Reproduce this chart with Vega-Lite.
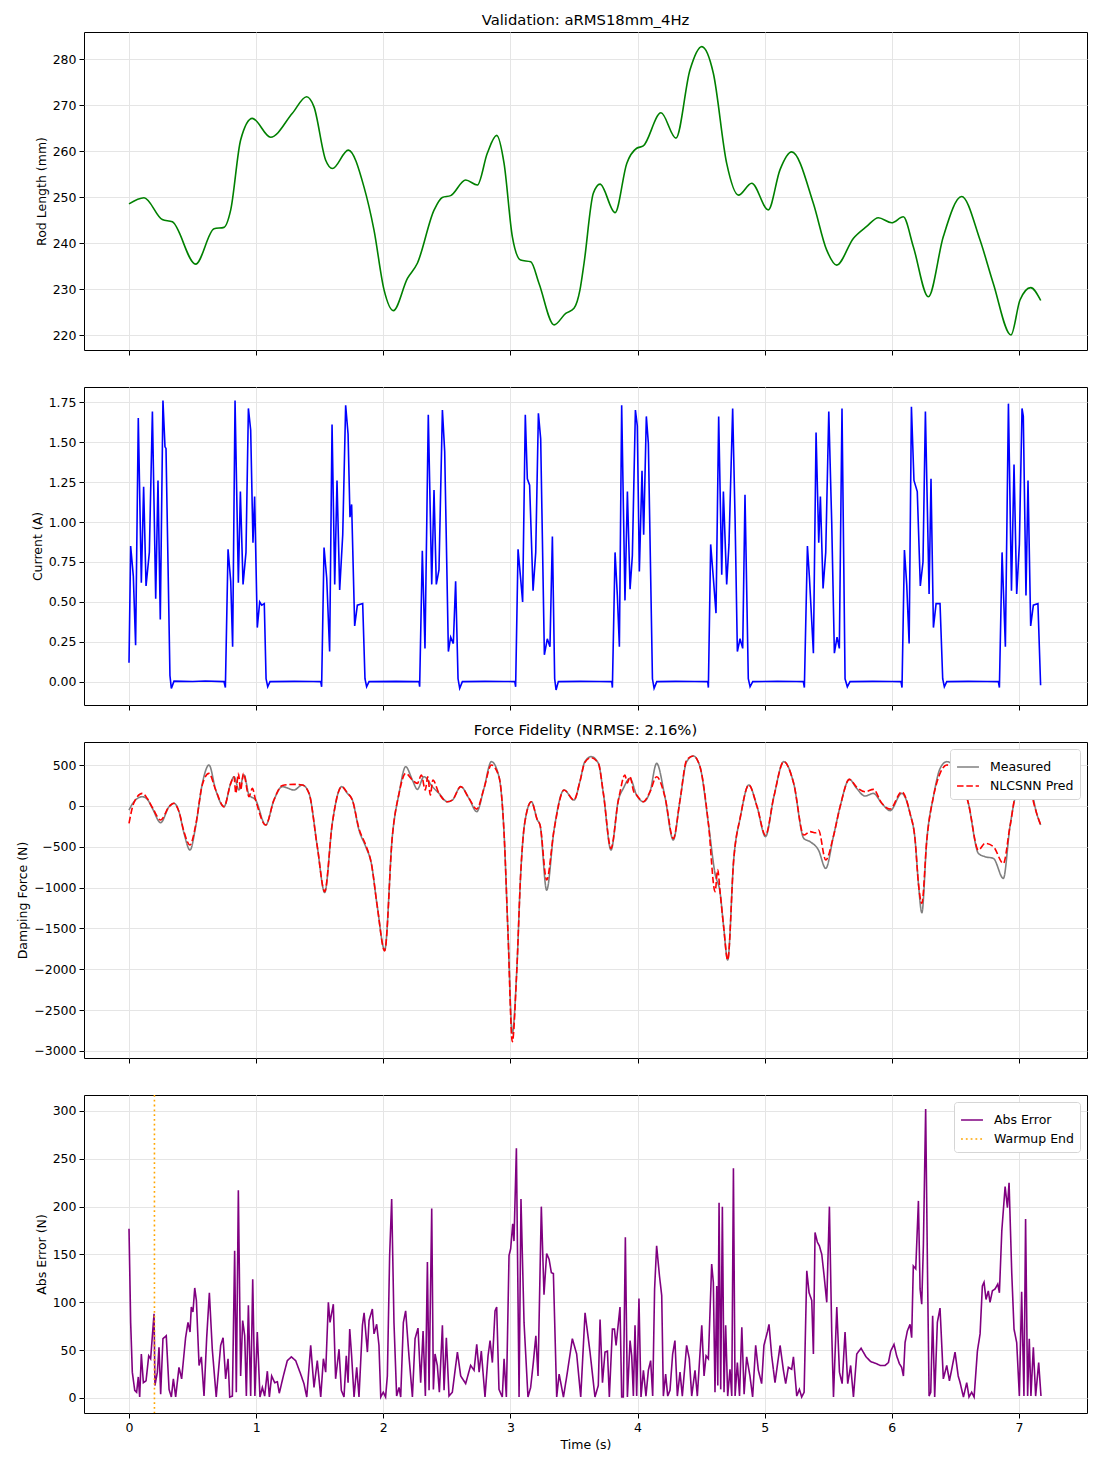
{
  "$schema": "https://vega.github.io/schema/vega-lite/v6.json",
  "padding": {"left": 16, "top": 12, "right": 13, "bottom": 10},
  "bounds": "flush",
  "spacing": 37,
  "config": {
    "font": "DejaVu Sans",
    "view": {"stroke": "#000", "strokeWidth": 1},
    "axis": {
      "labelFont": "DejaVu Sans", "labelFontSize": 12.5, "labelColor": "#000",
      "titleFont": "DejaVu Sans", "titleFontSize": 12.5, "titleFontWeight": "normal", "titleColor": "#000",
      "tickColor": "#000", "tickSize": 5, "labelPadding": 3, "domain": false,
      "gridColor": "#e5e5e5", "gridWidth": 1
    },
    "title": {"font": "DejaVu Sans", "fontSize": 14.8, "fontWeight": "normal", "color": "#000", "offset": 4},
    "legend": {
      "orient": "top-right", "offset": 7, "fillColor": "#fff", "strokeColor": "#d5d5d5",
      "padding": 6, "cornerRadius": 3, "labelFont": "DejaVu Sans", "labelFontSize": 12.5, "labelColor": "#000",
      "symbolType": "stroke", "symbolSize": 480, "symbolStrokeWidth": 1.6, "rowPadding": 0, "labelOffset": 10
    }
  },
  "datasets": {
    "rod": [
      {"t":0,"v":248.5},{"t":0.118,"v":249.85},{"t":0.262,"v":245.1},{"t":0.341,"v":244.6},{"t":0.524,"v":235.4},
      {"t":0.669,"v":243.1},{"t":0.747,"v":243.4},{"t":0.8,"v":247.2},{"t":0.878,"v":262.4},{"t":0.97,"v":267.1},
      {"t":1.114,"v":263.0},{"t":1.285,"v":268.2},{"t":1.397,"v":271.8},{"t":1.455,"v":269.6},{"t":1.547,"v":258.0},
      {"t":1.6,"v":256.2},{"t":1.725,"v":260.2},{"t":1.848,"v":252.2},{"t":1.927,"v":242.8},{"t":2.006,"v":229.8},
      {"t":2.079,"v":225.3},{"t":2.19,"v":232.3},{"t":2.268,"v":235.6},{"t":2.4,"v":247.2},{"t":2.464,"v":249.9},
      {"t":2.53,"v":250.3},{"t":2.648,"v":253.7},{"t":2.74,"v":252.6},{"t":2.818,"v":259.5},{"t":2.892,"v":263.4},
      {"t":2.95,"v":257.3},{"t":3.015,"v":241.4},{"t":3.08,"v":236.3},{"t":3.16,"v":235.9},{"t":3.225,"v":231.2},
      {"t":3.343,"v":222.2},{"t":3.435,"v":224.7},{"t":3.5,"v":225.8},{"t":3.547,"v":229.8},{"t":3.579,"v":235.6},
      {"t":3.652,"v":250.8},{"t":3.705,"v":252.8},{"t":3.823,"v":246.6},{"t":3.915,"v":257.3},{"t":3.993,"v":260.6},
      {"t":4.045,"v":261.1},{"t":4.184,"v":268.3},{"t":4.302,"v":262.8},{"t":4.412,"v":277.6},{"t":4.505,"v":282.7},
      {"t":4.596,"v":276.9},{"t":4.701,"v":257.3},{"t":4.793,"v":250.4},{"t":4.898,"v":253.0},{"t":5.028,"v":247.2},
      {"t":5.12,"v":255.9},{"t":5.212,"v":259.8},{"t":5.383,"v":248.6},{"t":5.487,"v":238.5},{"t":5.566,"v":235.2},
      {"t":5.697,"v":241.0},{"t":5.802,"v":243.6},{"t":5.894,"v":245.5},{"t":5.999,"v":244.4},{"t":6.09,"v":245.7},
      {"t":6.169,"v":239.2},{"t":6.287,"v":228.3},{"t":6.405,"v":241.4},{"t":6.549,"v":250.1},{"t":6.693,"v":240.7},
      {"t":6.798,"v":231.2},{"t":6.937,"v":220.0},{"t":7.008,"v":227.6},{"t":7.092,"v":230.3},{"t":7.171,"v":227.5}
    ],
    "cur": [
      {"t":0,"v":0.12},{"t":0.013,"v":0.85},{"t":0.034,"v":0.66},{"t":0.052,"v":0.23},{"t":0.073,"v":1.65},{"t":0.097,"v":0.62},{"t":0.115,"v":1.22},{"t":0.134,"v":0.6},{"t":0.16,"v":0.81},{"t":0.184,"v":1.69},{"t":0.21,"v":0.52},{"t":0.228,"v":1.26},{"t":0.246,"v":0.39},{"t":0.267,"v":1.76},{"t":0.283,"v":1.47},{"t":0.291,"v":1.46},{"t":0.322,"v":0.04},{"t":0.333,"v":-0.04},{"t":0.354,"v":0.005},{"t":0.5,"v":0.003},{"t":0.6,"v":0.006},{"t":0.747,"v":0.002},{"t":0.758,"v":-0.035},
      {"t":0.779,"v":0.83},{"t":0.8,"v":0.63},{"t":0.815,"v":0.22},{"t":0.834,"v":1.76},{"t":0.86,"v":0.62},{"t":0.876,"v":1.19},{"t":0.897,"v":0.61},{"t":0.92,"v":0.81},{"t":0.939,"v":1.71},{"t":0.957,"v":1.575},{"t":0.975,"v":0.87},{"t":0.988,"v":1.16},{"t":1.009,"v":0.34},{"t":1.028,"v":0.5},{"t":1.044,"v":0.48},{"t":1.064,"v":0.49},{"t":1.078,"v":0.02},{"t":1.091,"v":-0.03},{"t":1.109,"v":0.002},{"t":1.3,"v":0.004},{"t":1.45,"v":0.003},{"t":1.508,"v":0.002},{"t":1.515,"v":-0.03},
      {"t":1.534,"v":0.84},{"t":1.555,"v":0.65},{"t":1.578,"v":0.19},{"t":1.597,"v":1.61},{"t":1.618,"v":0.61},{"t":1.636,"v":1.26},{"t":1.657,"v":0.575},{"t":1.681,"v":0.92},{"t":1.704,"v":1.73},{"t":1.723,"v":1.55},{"t":1.738,"v":1.03},{"t":1.751,"v":1.11},{"t":1.775,"v":0.35},{"t":1.796,"v":0.48},{"t":1.838,"v":0.49},{"t":1.856,"v":0.02},{"t":1.869,"v":-0.03},{"t":1.888,"v":0.002},{"t":2.1,"v":0.004},{"t":2.25,"v":0.002},{"t":2.281,"v":0.002},{"t":2.286,"v":-0.03},
      {"t":2.307,"v":0.82},{"t":2.328,"v":0.21},{"t":2.354,"v":1.67},{"t":2.381,"v":0.61},{"t":2.399,"v":1.2},{"t":2.417,"v":0.61},{"t":2.438,"v":0.7},{"t":2.465,"v":1.7},{"t":2.483,"v":1.44},{"t":2.512,"v":0.19},{"t":2.53,"v":0.28},{"t":2.551,"v":0.24},{"t":2.569,"v":0.63},{"t":2.588,"v":0.02},{"t":2.601,"v":-0.04},{"t":2.622,"v":0.002},{"t":2.8,"v":0.004},{"t":2.95,"v":0.003},{"t":3.034,"v":0.002},{"t":3.041,"v":-0.03},
      {"t":3.06,"v":0.83},{"t":3.081,"v":0.64},{"t":3.096,"v":0.5},{"t":3.117,"v":1.67},{"t":3.133,"v":1.27},{"t":3.151,"v":1.23},{"t":3.178,"v":0.57},{"t":3.199,"v":0.81},{"t":3.22,"v":1.68},{"t":3.238,"v":1.52},{"t":3.267,"v":0.17},{"t":3.29,"v":0.27},{"t":3.311,"v":0.22},{"t":3.33,"v":0.91},{"t":3.348,"v":0.02},{"t":3.359,"v":-0.05},{"t":3.377,"v":0.002},{"t":3.55,"v":0.004},{"t":3.7,"v":0.003},{"t":3.797,"v":0.002},{"t":3.802,"v":-0.035},
      {"t":3.823,"v":0.81},{"t":3.841,"v":0.54},{"t":3.857,"v":0.22},{"t":3.875,"v":1.73},{"t":3.901,"v":0.51},{"t":3.92,"v":1.19},{"t":3.941,"v":0.58},{"t":3.959,"v":0.79},{"t":3.983,"v":1.7},{"t":3.998,"v":1.6},{"t":4.014,"v":0.69},{"t":4.035,"v":1.32},{"t":4.048,"v":0.92},{"t":4.069,"v":1.66},{"t":4.085,"v":1.49},{"t":4.117,"v":0.02},{"t":4.13,"v":-0.04},{"t":4.151,"v":0.002},{"t":4.3,"v":0.004},{"t":4.45,"v":0.003},{"t":4.552,"v":0.002},{"t":4.557,"v":-0.035},
      {"t":4.575,"v":0.86},{"t":4.596,"v":0.65},{"t":4.617,"v":0.43},{"t":4.638,"v":1.66},{"t":4.662,"v":0.67},{"t":4.675,"v":1.19},{"t":4.701,"v":0.61},{"t":4.719,"v":0.86},{"t":4.748,"v":1.71},{"t":4.767,"v":1.02},{"t":4.785,"v":0.19},{"t":4.806,"v":0.27},{"t":4.827,"v":0.21},{"t":4.845,"v":1.17},{"t":4.871,"v":0.02},{"t":4.885,"v":-0.03},{"t":4.906,"v":0.002},{"t":5.1,"v":0.004},{"t":5.25,"v":0.003},{"t":5.304,"v":0.002},{"t":5.312,"v":-0.035},
      {"t":5.336,"v":0.85},{"t":5.352,"v":0.65},{"t":5.383,"v":0.18},{"t":5.404,"v":1.56},{"t":5.425,"v":0.87},{"t":5.438,"v":1.16},{"t":5.459,"v":0.585},{"t":5.48,"v":0.81},{"t":5.504,"v":1.69},{"t":5.527,"v":1.0},{"t":5.548,"v":0.18},{"t":5.569,"v":0.28},{"t":5.587,"v":0.21},{"t":5.608,"v":1.71},{"t":5.632,"v":0.02},{"t":5.65,"v":-0.03},{"t":5.671,"v":0.002},{"t":5.85,"v":0.004},{"t":6.0,"v":0.003},{"t":6.072,"v":0.002},{"t":6.08,"v":-0.035},
      {"t":6.099,"v":0.825},{"t":6.117,"v":0.61},{"t":6.136,"v":0.24},{"t":6.154,"v":1.72},{"t":6.174,"v":1.26},{"t":6.2,"v":1.19},{"t":6.224,"v":0.6},{"t":6.245,"v":0.75},{"t":6.264,"v":1.69},{"t":6.293,"v":0.55},{"t":6.308,"v":1.27},{"t":6.327,"v":0.34},{"t":6.348,"v":0.49},{"t":6.379,"v":0.49},{"t":6.4,"v":0.02},{"t":6.413,"v":-0.03},{"t":6.432,"v":0.002},{"t":6.6,"v":0.004},{"t":6.75,"v":0.003},{"t":6.838,"v":0.002},{"t":6.846,"v":-0.035},
      {"t":6.867,"v":0.81},{"t":6.893,"v":0.22},{"t":6.917,"v":1.74},{"t":6.941,"v":0.57},{"t":6.961,"v":1.36},{"t":6.982,"v":0.55},{"t":7.003,"v":0.86},{"t":7.024,"v":1.71},{"t":7.034,"v":1.66},{"t":7.055,"v":0.54},{"t":7.071,"v":1.26},{"t":7.092,"v":0.35},{"t":7.113,"v":0.48},{"t":7.149,"v":0.49},{"t":7.17,"v":-0.02}
    ],
    "measured": [
      {"t":0,"v":-51},{"t":0.039,"v":51},{"t":0.105,"v":112},{"t":0.144,"v":80},{"t":0.184,"v":-31},{"t":0.249,"v":-206},{"t":0.315,"v":-10},{"t":0.354,"v":31},{"t":0.393,"v":-71},{"t":0.433,"v":-337},{"t":0.48,"v":-541},{"t":0.524,"v":-255},{"t":0.577,"v":275},{"t":0.629,"v":500},{"t":0.682,"v":194},{"t":0.747,"v":-10},{"t":0.8,"v":275},{"t":0.826,"v":357},{"t":0.865,"v":194},{"t":0.905,"v":377},{"t":0.944,"v":133},{"t":0.996,"v":71},{"t":1.075,"v":-235},{"t":1.14,"v":71},{"t":1.206,"v":235},{"t":1.298,"v":194},{"t":1.363,"v":255},{"t":1.416,"v":153},{"t":1.481,"v":-500},{"t":1.539,"v":-1060},{"t":1.599,"v":-214},{"t":1.673,"v":235},{"t":1.717,"v":153},{"t":1.757,"v":71},{"t":1.809,"v":-296},{"t":1.862,"v":-500},{"t":1.906,"v":-704},{"t":1.953,"v":-1234},{"t":2.011,"v":-1765},{"t":2.071,"v":-377},{"t":2.124,"v":153},{"t":2.176,"v":479},{"t":2.229,"v":316},{"t":2.268,"v":202},{"t":2.32,"v":357},{"t":2.386,"v":235},{"t":2.438,"v":153},{"t":2.504,"v":51},{"t":2.543,"v":71},{"t":2.609,"v":235},{"t":2.674,"v":92},{"t":2.735,"v":-71},{"t":2.792,"v":214},{"t":2.85,"v":541},{"t":2.91,"v":357},{"t":2.95,"v":-337},{"t":2.981,"v":-1561},{"t":3.015,"v":-2785},{"t":3.049,"v":-2050},{"t":3.081,"v":-826},{"t":3.112,"v":-214},{"t":3.165,"v":51},{"t":3.212,"v":-173},{"t":3.233,"v":-235},{"t":3.285,"v":-1032},{"t":3.343,"v":-296},{"t":3.422,"v":194},{"t":3.5,"v":71},{"t":3.547,"v":300},{"t":3.585,"v":540},{"t":3.635,"v":602},{"t":3.692,"v":520},{"t":3.731,"v":153},{"t":3.791,"v":-541},{"t":3.849,"v":71},{"t":3.888,"v":214},{"t":3.94,"v":337},{"t":3.992,"v":133},{"t":4.045,"v":51},{"t":4.098,"v":173},{"t":4.15,"v":520},{"t":4.215,"v":112},{"t":4.281,"v":-418},{"t":4.334,"v":71},{"t":4.386,"v":541},{"t":4.439,"v":610},{"t":4.491,"v":479},{"t":4.557,"v":-214},{"t":4.609,"v":-826},{"t":4.65,"v":-1071},{"t":4.677,"v":-1479},{"t":4.709,"v":-1887},{"t":4.756,"v":-663},{"t":4.809,"v":-133},{"t":4.875,"v":255},{"t":4.94,"v":-10},{"t":5.006,"v":-377},{"t":5.072,"v":112},{"t":5.15,"v":541},{"t":5.228,"v":275},{"t":5.307,"v":-398},{"t":5.357,"v":-439},{"t":5.423,"v":-541},{"t":5.48,"v":-765},{"t":5.54,"v":-377},{"t":5.593,"v":-10},{"t":5.666,"v":324},{"t":5.723,"v":214},{"t":5.789,"v":120},{"t":5.855,"v":153},{"t":5.921,"v":31},{"t":5.986,"v":-59},{"t":6.078,"v":153},{"t":6.143,"v":-92},{"t":6.183,"v":-418},{"t":6.209,"v":-949},{"t":6.236,"v":-1308},{"t":6.275,"v":-418},{"t":6.327,"v":112},{"t":6.38,"v":459},{"t":6.432,"v":541},{"t":6.511,"v":439},{"t":6.602,"v":31},{"t":6.681,"v":-582},{"t":6.733,"v":-622},{"t":6.799,"v":-643},{"t":6.877,"v":-888},{"t":6.929,"v":-255},{"t":6.982,"v":153},{"t":7.047,"v":235},{"t":7.1,"v":153},{"t":7.139,"v":-92},{"t":7.171,"v":-235}
    ],
    "pred": [
      {"t":0,"v":-214},{"t":0.039,"v":40},{"t":0.105,"v":153},{"t":0.144,"v":90},{"t":0.184,"v":-20},{"t":0.249,"v":-173},{"t":0.315,"v":-10},{"t":0.354,"v":31},{"t":0.393,"v":-71},{"t":0.433,"v":-320},{"t":0.48,"v":-479},{"t":0.524,"v":-240},{"t":0.577,"v":260},{"t":0.629,"v":398},{"t":0.682,"v":194},{"t":0.747,"v":-10},{"t":0.8,"v":275},{"t":0.826,"v":357},{"t":0.84,"v":153},{"t":0.86,"v":398},{"t":0.878,"v":194},{"t":0.9,"v":398},{"t":0.944,"v":112},{"t":0.97,"v":214},{"t":0.996,"v":71},{"t":1.075,"v":-235},{"t":1.14,"v":71},{"t":1.206,"v":250},{"t":1.298,"v":263},{"t":1.363,"v":255},{"t":1.416,"v":153},{"t":1.481,"v":-500},{"t":1.539,"v":-1050},{"t":1.599,"v":-214},{"t":1.673,"v":235},{"t":1.717,"v":160},{"t":1.757,"v":71},{"t":1.809,"v":-280},{"t":1.862,"v":-480},{"t":1.906,"v":-704},{"t":1.953,"v":-1234},{"t":2.011,"v":-1775},{"t":2.071,"v":-377},{"t":2.124,"v":153},{"t":2.176,"v":398},{"t":2.229,"v":316},{"t":2.268,"v":275},{"t":2.3,"v":377},{"t":2.33,"v":194},{"t":2.35,"v":357},{"t":2.37,"v":133},{"t":2.39,"v":316},{"t":2.438,"v":153},{"t":2.504,"v":51},{"t":2.543,"v":71},{"t":2.609,"v":235},{"t":2.674,"v":92},{"t":2.735,"v":-40},{"t":2.792,"v":214},{"t":2.85,"v":500},{"t":2.91,"v":357},{"t":2.95,"v":-337},{"t":2.981,"v":-1561},{"t":3.015,"v":-2887},{"t":3.049,"v":-2050},{"t":3.081,"v":-826},{"t":3.112,"v":-214},{"t":3.165,"v":51},{"t":3.212,"v":-173},{"t":3.233,"v":-235},{"t":3.285,"v":-908},{"t":3.343,"v":-296},{"t":3.422,"v":194},{"t":3.5,"v":71},{"t":3.547,"v":300},{"t":3.585,"v":530},{"t":3.635,"v":590},{"t":3.692,"v":520},{"t":3.731,"v":153},{"t":3.791,"v":-520},{"t":3.849,"v":71},{"t":3.86,"v":153},{"t":3.9,"v":377},{"t":3.92,"v":280},{"t":3.94,"v":357},{"t":3.97,"v":173},{"t":3.992,"v":133},{"t":4.045,"v":51},{"t":4.098,"v":173},{"t":4.15,"v":357},{"t":4.215,"v":112},{"t":4.281,"v":-400},{"t":4.334,"v":71},{"t":4.386,"v":560},{"t":4.439,"v":610},{"t":4.491,"v":479},{"t":4.557,"v":-214},{"t":4.61,"v":-1050},{"t":4.63,"v":-780},{"t":4.65,"v":-1071},{"t":4.677,"v":-1479},{"t":4.709,"v":-1887},{"t":4.756,"v":-663},{"t":4.809,"v":-133},{"t":4.875,"v":255},{"t":4.94,"v":-10},{"t":5.006,"v":-360},{"t":5.072,"v":112},{"t":5.15,"v":541},{"t":5.228,"v":275},{"t":5.307,"v":-357},{"t":5.357,"v":-316},{"t":5.4,"v":-330},{"t":5.423,"v":-296},{"t":5.48,"v":-663},{"t":5.54,"v":-377},{"t":5.593,"v":-10},{"t":5.666,"v":324},{"t":5.723,"v":230},{"t":5.789,"v":173},{"t":5.855,"v":202},{"t":5.921,"v":31},{"t":5.986,"v":-40},{"t":6.078,"v":173},{"t":6.143,"v":-92},{"t":6.183,"v":-418},{"t":6.209,"v":-949},{"t":6.236,"v":-1193},{"t":6.275,"v":-418},{"t":6.327,"v":112},{"t":6.38,"v":400},{"t":6.432,"v":500},{"t":6.511,"v":439},{"t":6.602,"v":31},{"t":6.681,"v":-541},{"t":6.733,"v":-459},{"t":6.799,"v":-500},{"t":6.877,"v":-704},{"t":6.929,"v":-255},{"t":6.982,"v":153},{"t":7.02,"v":92},{"t":7.047,"v":235},{"t":7.07,"v":153},{"t":7.09,"v":250},{"t":7.1,"v":153},{"t":7.139,"v":-92},{"t":7.171,"v":-235}
    ],
    "err": [
      {"t":0,"v":177},{"t":0.013,"v":79},{"t":0.026,"v":27},{"t":0.045,"v":8},{"t":0.06,"v":6},{"t":0.073,"v":22},{"t":0.084,"v":1},{"t":0.097,"v":46},{"t":0.113,"v":16},{"t":0.134,"v":18},{"t":0.155,"v":44},{"t":0.17,"v":41},{"t":0.197,"v":88},{"t":0.204,"v":13},{"t":0.223,"v":27},{"t":0.236,"v":53},{"t":0.249,"v":4},{"t":0.267,"v":62},{"t":0.293,"v":65},{"t":0.315,"v":9},{"t":0.333,"v":1},{"t":0.349,"v":20},{"t":0.367,"v":1},{"t":0.393,"v":32},{"t":0.414,"v":20},{"t":0.445,"v":63},{"t":0.464,"v":79},{"t":0.48,"v":69},{"t":0.49,"v":95},{"t":0.503,"v":90},{"t":0.517,"v":115},{"t":0.53,"v":102},{"t":0.551,"v":34},{"t":0.569,"v":43},{"t":0.59,"v":2},{"t":0.611,"v":63},{"t":0.632,"v":110},{"t":0.655,"v":51},{"t":0.686,"v":1},{"t":0.721,"v":55},{"t":0.74,"v":63},{"t":0.76,"v":20},{"t":0.779,"v":41},{"t":0.792,"v":1},{"t":0.813,"v":2},{"t":0.831,"v":154},{"t":0.844,"v":6},{"t":0.86,"v":217},{"t":0.878,"v":23},{"t":0.894,"v":81},{"t":0.91,"v":65},{"t":0.923,"v":2},{"t":0.939,"v":97},{"t":0.957,"v":2},{"t":0.973,"v":124},{"t":0.99,"v":2},{"t":1.009,"v":69},{"t":1.03,"v":1},{"t":1.049,"v":11},{"t":1.067,"v":2},{"t":1.088,"v":28},{"t":1.104,"v":1},{"t":1.122,"v":23},{"t":1.146,"v":16},{"t":1.167,"v":17},{"t":1.182,"v":5},{"t":1.214,"v":23},{"t":1.245,"v":39},{"t":1.277,"v":43},{"t":1.311,"v":39},{"t":1.35,"v":25},{"t":1.376,"v":15},{"t":1.398,"v":1},{"t":1.429,"v":55},{"t":1.455,"v":11},{"t":1.481,"v":39},{"t":1.508,"v":1},{"t":1.529,"v":41},{"t":1.547,"v":27},{"t":1.568,"v":100},{"t":1.581,"v":79},{"t":1.607,"v":98},{"t":1.625,"v":20},{"t":1.652,"v":51},{"t":1.67,"v":8},{"t":1.691,"v":1},{"t":1.709,"v":44},{"t":1.723,"v":16},{"t":1.736,"v":72},{"t":1.751,"v":44},{"t":1.77,"v":1},{"t":1.791,"v":32},{"t":1.809,"v":1},{"t":1.836,"v":76},{"t":1.849,"v":89},{"t":1.875,"v":48},{"t":1.888,"v":81},{"t":1.914,"v":93},{"t":1.927,"v":67},{"t":1.948,"v":77},{"t":1.966,"v":55},{"t":1.98,"v":1},{"t":2.0,"v":6},{"t":2.018,"v":1},{"t":2.032,"v":23},{"t":2.05,"v":149},{"t":2.066,"v":208},{"t":2.084,"v":79},{"t":2.105,"v":2},{"t":2.124,"v":11},{"t":2.137,"v":1},{"t":2.158,"v":79},{"t":2.176,"v":91},{"t":2.202,"v":44},{"t":2.229,"v":1},{"t":2.25,"v":62},{"t":2.273,"v":73},{"t":2.294,"v":16},{"t":2.313,"v":70},{"t":2.331,"v":2},{"t":2.347,"v":142},{"t":2.36,"v":8},{"t":2.381,"v":198},{"t":2.394,"v":9},{"t":2.407,"v":46},{"t":2.425,"v":34},{"t":2.441,"v":6},{"t":2.465,"v":76},{"t":2.478,"v":8},{"t":2.496,"v":63},{"t":2.517,"v":2},{"t":2.543,"v":6},{"t":2.583,"v":48},{"t":2.609,"v":23},{"t":2.648,"v":15},{"t":2.687,"v":34},{"t":2.714,"v":29},{"t":2.735,"v":56},{"t":2.754,"v":27},{"t":2.771,"v":49},{"t":2.8,"v":1},{"t":2.824,"v":44},{"t":2.84,"v":60},{"t":2.858,"v":37},{"t":2.879,"v":91},{"t":2.892,"v":95},{"t":2.91,"v":9},{"t":2.936,"v":1},{"t":2.95,"v":41},{"t":2.968,"v":1},{"t":2.989,"v":149},{"t":3.002,"v":156},{"t":3.018,"v":182},{"t":3.028,"v":164},{"t":3.047,"v":261},{"t":3.068,"v":1},{"t":3.083,"v":208},{"t":3.107,"v":79},{"t":3.138,"v":1},{"t":3.159,"v":11},{"t":3.18,"v":37},{"t":3.2,"v":65},{"t":3.217,"v":23},{"t":3.243,"v":200},{"t":3.264,"v":108},{"t":3.285,"v":151},{"t":3.304,"v":145},{"t":3.322,"v":131},{"t":3.338,"v":130},{"t":3.364,"v":1},{"t":3.383,"v":25},{"t":3.417,"v":1},{"t":3.448,"v":27},{"t":3.487,"v":62},{"t":3.521,"v":46},{"t":3.553,"v":1},{"t":3.587,"v":89},{"t":3.626,"v":48},{"t":3.665,"v":1},
      {"t":3.691,"v":13},{"t":3.705,"v":82},{"t":3.724,"v":16},{"t":3.744,"v":48},{"t":3.763,"v":49},{"t":3.778,"v":1},{"t":3.802,"v":72},{"t":3.818,"v":72},{"t":3.831,"v":55},{"t":3.844,"v":72},{"t":3.862,"v":95},{"t":3.875,"v":1},{"t":3.888,"v":1},{"t":3.904,"v":168},{"t":3.92,"v":1},{"t":3.941,"v":60},{"t":3.954,"v":44},{"t":3.967,"v":2},{"t":3.98,"v":76},{"t":3.993,"v":2},{"t":4.011,"v":104},{"t":4.027,"v":1},{"t":4.046,"v":29},{"t":4.066,"v":2},{"t":4.085,"v":29},{"t":4.103,"v":39},{"t":4.119,"v":2},{"t":4.134,"v":114},{"t":4.15,"v":159},{"t":4.172,"v":128},{"t":4.19,"v":107},{"t":4.203,"v":2},{"t":4.221,"v":25},{"t":4.237,"v":2},{"t":4.255,"v":8},{"t":4.276,"v":46},{"t":4.294,"v":60},{"t":4.313,"v":2},{"t":4.334,"v":27},{"t":4.352,"v":2},{"t":4.386,"v":55},{"t":4.407,"v":41},{"t":4.426,"v":2},{"t":4.452,"v":29},{"t":4.47,"v":2},{"t":4.505,"v":76},{"t":4.523,"v":23},{"t":4.539,"v":44},{"t":4.557,"v":41},{"t":4.583,"v":140},{"t":4.596,"v":121},{"t":4.609,"v":6},{"t":4.623,"v":117},{"t":4.631,"v":13},{"t":4.641,"v":204},{"t":4.654,"v":9},{"t":4.667,"v":200},{"t":4.68,"v":6},{"t":4.693,"v":76},{"t":4.709,"v":2},{"t":4.727,"v":30},{"t":4.741,"v":2},{"t":4.754,"v":240},{"t":4.767,"v":2},{"t":4.785,"v":37},{"t":4.802,"v":2},{"t":4.82,"v":74},{"t":4.838,"v":4},{"t":4.858,"v":43},{"t":4.884,"v":23},{"t":4.905,"v":1},{"t":4.929,"v":55},{"t":4.95,"v":29},{"t":4.976,"v":15},{"t":4.994,"v":55},{"t":5.021,"v":69},{"t":5.034,"v":77},{"t":5.055,"v":44},{"t":5.081,"v":16},{"t":5.121,"v":55},{"t":5.147,"v":29},{"t":5.165,"v":15},{"t":5.186,"v":32},{"t":5.212,"v":30},{"t":5.226,"v":43},{"t":5.252,"v":2},{"t":5.273,"v":9},{"t":5.291,"v":1},{"t":5.31,"v":6},{"t":5.331,"v":133},{"t":5.349,"v":110},{"t":5.37,"v":102},{"t":5.383,"v":46},{"t":5.396,"v":173},{"t":5.414,"v":163},{"t":5.43,"v":159},{"t":5.449,"v":150},{"t":5.467,"v":128},{"t":5.488,"v":100},{"t":5.509,"v":200},{"t":5.527,"v":70},{"t":5.541,"v":1},{"t":5.567,"v":95},{"t":5.588,"v":27},{"t":5.609,"v":15},{"t":5.632,"v":69},{"t":5.653,"v":15},{"t":5.676,"v":34},{"t":5.698,"v":1},{"t":5.724,"v":46},{"t":5.758,"v":52},{"t":5.797,"v":43},{"t":5.834,"v":38},{"t":5.876,"v":36},{"t":5.908,"v":34},{"t":5.947,"v":34},{"t":5.973,"v":37},{"t":5.991,"v":49},{"t":6.017,"v":56},{"t":6.038,"v":44},{"t":6.059,"v":36},{"t":6.077,"v":32},{"t":6.091,"v":23},{"t":6.104,"v":58},{"t":6.122,"v":70},{"t":6.143,"v":77},{"t":6.156,"v":63},{"t":6.169,"v":138},{"t":6.188,"v":135},{"t":6.209,"v":206},{"t":6.222,"v":114},{"t":6.235,"v":98},{"t":6.248,"v":159},{"t":6.266,"v":302},{"t":6.28,"v":138},{"t":6.293,"v":2},{"t":6.306,"v":6},{"t":6.321,"v":86},{"t":6.337,"v":1},{"t":6.358,"v":79},{"t":6.379,"v":94},{"t":6.405,"v":20},{"t":6.432,"v":34},{"t":6.453,"v":18},{"t":6.471,"v":30},{"t":6.497,"v":48},{"t":6.522,"v":23},{"t":6.537,"v":16},{"t":6.563,"v":1},{"t":6.589,"v":16},{"t":6.607,"v":1},{"t":6.628,"v":6},{"t":6.647,"v":1},{"t":6.673,"v":49},{"t":6.694,"v":67},{"t":6.712,"v":117},{"t":6.725,"v":121},{"t":6.741,"v":103},{"t":6.759,"v":112},{"t":6.772,"v":100},{"t":6.791,"v":112},{"t":6.812,"v":114},{"t":6.833,"v":119},{"t":6.846,"v":110},{"t":6.865,"v":175},{"t":6.891,"v":221},{"t":6.909,"v":199},{"t":6.922,"v":225},{"t":6.943,"v":131},{"t":6.961,"v":72},{"t":6.982,"v":58},{"t":7.003,"v":2},{"t":7.021,"v":111},{"t":7.039,"v":2},{"t":7.052,"v":187},{"t":7.068,"v":2},{"t":7.081,"v":62},{"t":7.094,"v":2},{"t":7.113,"v":53},{"t":7.131,"v":2},{"t":7.155,"v":37},{"t":7.173,"v":2}
    ],
    "warmup": [{"t": 0.2}]
  },
  "vconcat": [
    {
      "width": 1003, "height": 318,
      "title": "Validation: aRMS18mm_4Hz",
      "data": {"name": "rod"},
      "mark": {"type": "line", "color": "#008000", "strokeWidth": 1.6, "interpolate": "monotone"},
      "encoding": {
        "x": {"field": "t", "type": "quantitative", "scale": {"domain": [-0.354, 7.535], "nice": false, "zero": false},
              "axis": {"values": [0, 1, 2, 3, 4, 5, 6, 7], "labels": false, "title": null}},
        "y": {"field": "v", "type": "quantitative", "scale": {"domain": [216.74, 285.87], "nice": false, "zero": false},
              "axis": {"values": [220, 230, 240, 250, 260, 270, 280], "title": "Rod Length (mm)"}}
      }
    },
    {
      "width": 1003, "height": 318,
      "data": {"name": "cur"},
      "mark": {"type": "line", "color": "#0000ff", "strokeWidth": 1.6},
      "encoding": {
        "x": {"field": "t", "type": "quantitative", "scale": {"domain": [-0.354, 7.535], "nice": false, "zero": false},
              "axis": {"values": [0, 1, 2, 3, 4, 5, 6, 7], "labels": false, "title": null}},
        "y": {"field": "v", "type": "quantitative", "scale": {"domain": [-0.144, 1.844], "nice": false, "zero": false},
              "axis": {"values": [0, 0.25, 0.5, 0.75, 1, 1.25, 1.5, 1.75], "format": ".2f", "title": "Current (A)"}}
      }
    },
    {
      "width": 1003, "height": 316,
      "title": "Force Fidelity (NRMSE: 2.16%)",
      "encoding": {
        "x": {"field": "t", "type": "quantitative", "scale": {"domain": [-0.354, 7.535], "nice": false, "zero": false},
              "axis": {"values": [0, 1, 2, 3, 4, 5, 6, 7], "labels": false, "title": null}},
        "y": {"field": "v", "type": "quantitative", "scale": {"domain": [-3086, 781.5], "nice": false, "zero": false},
              "axis": {"values": [-3000, -2500, -2000, -1500, -1000, -500, 0, 500], "format": "d", "title": "Damping Force (N)"}}
      },
      "layer": [
        {
          "data": {"name": "measured"},
          "mark": {"type": "line", "strokeWidth": 1.6, "interpolate": "monotone"},
          "encoding": {
            "color": {"datum": "Measured", "type": "nominal", "title": null,
                      "scale": {"domain": ["Measured", "NLCSNN Pred"], "range": ["#808080", "#ff0000"]}},
            "strokeDash": {"datum": "Measured", "type": "nominal", "title": null,
                           "scale": {"domain": ["Measured", "NLCSNN Pred"], "range": [[1, 0], [6.5, 2.8]]}}
          }
        },
        {
          "data": {"name": "pred"},
          "mark": {"type": "line", "strokeWidth": 1.6, "interpolate": "monotone"},
          "encoding": {
            "color": {"datum": "NLCSNN Pred", "type": "nominal", "title": null},
            "strokeDash": {"datum": "NLCSNN Pred", "type": "nominal", "title": null}
          }
        }
      ]
    },
    {
      "width": 1003, "height": 318,
      "encoding": {
        "x": {"field": "t", "type": "quantitative", "scale": {"domain": [-0.354, 7.535], "nice": false, "zero": false},
              "axis": {"values": [0, 1, 2, 3, 4, 5, 6, 7], "format": "d", "title": "Time (s)", "titlePadding": 5}}
      },
      "layer": [
        {
          "data": {"name": "err"},
          "mark": {"type": "line", "strokeWidth": 1.6},
          "encoding": {
            "y": {"field": "v", "type": "quantitative", "scale": {"domain": [-15.7, 316.7], "nice": false, "zero": false},
                  "axis": {"values": [0, 50, 100, 150, 200, 250, 300], "title": "Abs Error (N)"}},
            "color": {"datum": "Abs Error", "type": "nominal", "title": null,
                      "scale": {"domain": ["Abs Error", "Warmup End"], "range": ["#800080", "#ffa500"]}},
            "strokeDash": {"datum": "Abs Error", "type": "nominal", "title": null,
                           "scale": {"domain": ["Abs Error", "Warmup End"], "range": [[1, 0], [1.8, 3]]}}
          }
        },
        {
          "data": {"name": "warmup"},
          "mark": {"type": "rule", "strokeWidth": 1.6},
          "encoding": {
            "color": {"datum": "Warmup End", "type": "nominal", "title": null},
            "strokeDash": {"datum": "Warmup End", "type": "nominal", "title": null}
          }
        }
      ]
    }
  ],
  "resolve": {"scale": {"color": "independent", "strokeDash": "independent"}}
}
